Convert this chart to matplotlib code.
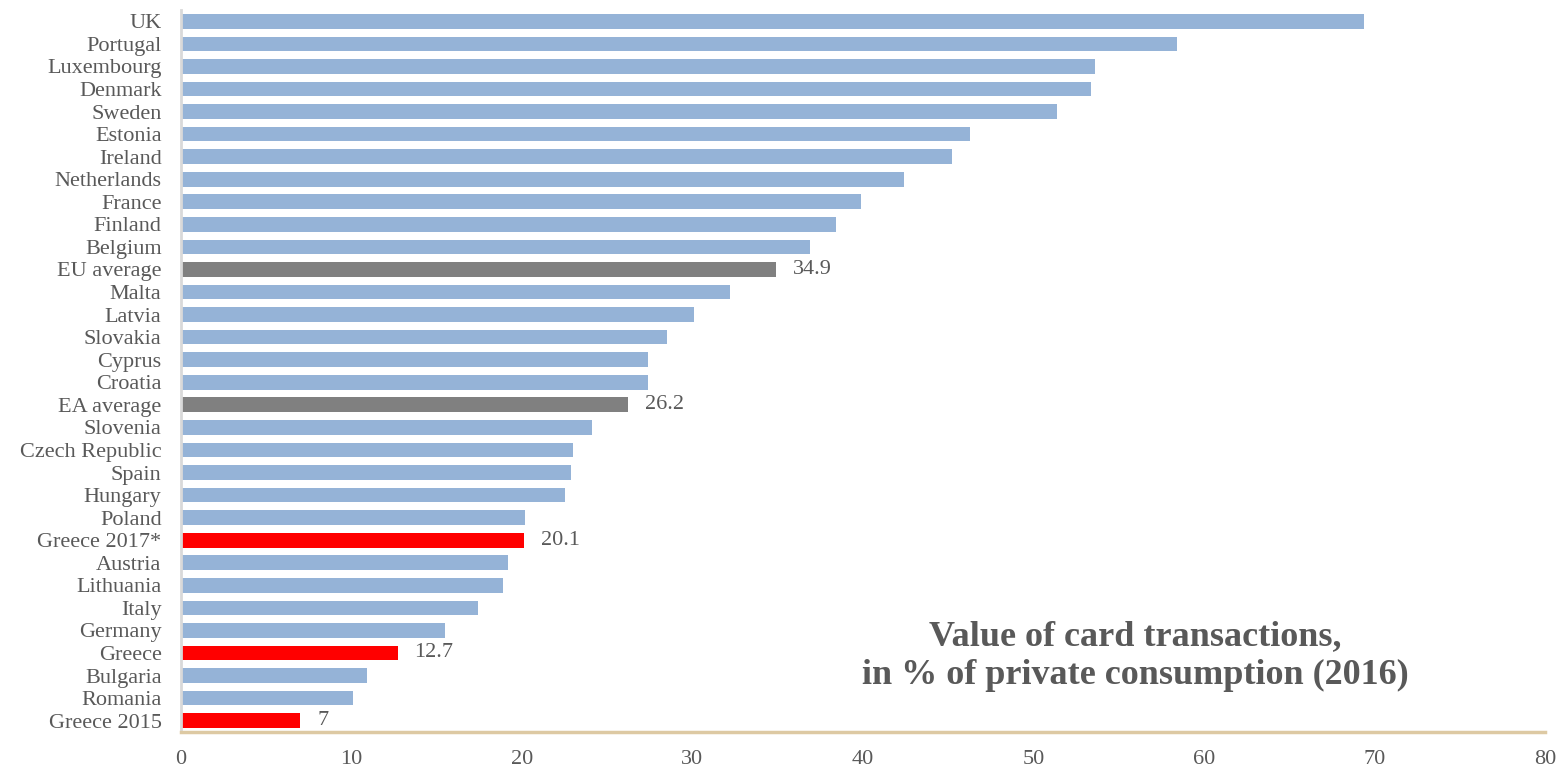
import numpy as np
import matplotlib.pyplot as plt

countries = ['UK', 'Portugal', 'Luxembourg', 'Denmark', 'Sweden', 'Estonia', 'Ireland',
             'Netherlands', 'France', 'Finland', 'Belgium', 'EU average', 'Malta', 'Latvia',
             'Slovakia', 'Cyprus', 'Croatia', 'EA average', 'Slovenia', 'Czech Republic',
             'Spain', 'Hungary', 'Poland', 'Greece 2017*', 'Austria', 'Lithuania', 'Italy',
             'Germany', 'Greece', 'Bulgaria', 'Romania', 'Greece 2015']
values = [69.4, 58.4, 53.6, 53.4, 51.4, 46.3, 45.2, 42.4, 39.9, 38.4, 36.9, 34.9, 32.2, 30.1,
          28.5, 27.4, 27.4, 26.2, 24.1, 23.0, 22.9, 22.5, 20.2, 20.1, 19.2, 18.9, 17.4,
          15.5, 12.7, 10.9, 10.1, 7.0]
labelled = {'EU average': '34.9', 'EA average': '26.2', 'Greece 2017*': '20.1',
            'Greece': '12.7', 'Greece 2015': '7'}

blue = '#95b3d7'
grey = '#808080'
red = '#ff0000'
text_col = '#595959'

colors = []
for c in countries:
    if c.startswith('Greece'):
        colors.append(red)
    elif 'average' in c:
        colors.append(grey)
    else:
        colors.append(blue)

plt.rcParams['font.family'] = ['Liberation Serif', 'DejaVu Serif']

fig = plt.figure(figsize=(15.62, 7.7), dpi=100)
ax = fig.add_axes([0.1159, 0.0494, 0.8731, 0.9376])

y = np.arange(len(countries))
ax.barh(y, values, height=0.65, color=colors)
ax.set_ylim(len(countries) - 0.5, -0.5)
ax.set_xlim(0, 80)
ax.set_yticks(y)
ax.set_yticklabels(countries, fontsize=16, color=text_col)
ax.set_xticks(np.arange(0, 81, 10))
ax.tick_params(axis='x', length=0, pad=13, labelsize=16, labelcolor=text_col)
ax.tick_params(axis='y', length=0, pad=14)

for i, c in enumerate(countries):
    if c in labelled:
        ax.text(values[i] + 1.0, i, labelled[c], va='center', ha='left',
                fontsize=16, color=text_col)

for s in ['top', 'right']:
    ax.spines[s].set_visible(False)
ax.spines['left'].set_color('#d9d9d9')
ax.spines['left'].set_linewidth(2)
ax.spines['bottom'].set_color('#ddc9a3')
ax.spines['bottom'].set_linewidth(2.5)

ax.text(0.700, 0.105, 'Value of card transactions,\nin % of private consumption (2016)',
        transform=ax.transAxes, ha='center', va='center', fontsize=26,
        fontweight='bold', color=text_col, linespacing=1.25)

fig.savefig('out.png', dpi=100)
